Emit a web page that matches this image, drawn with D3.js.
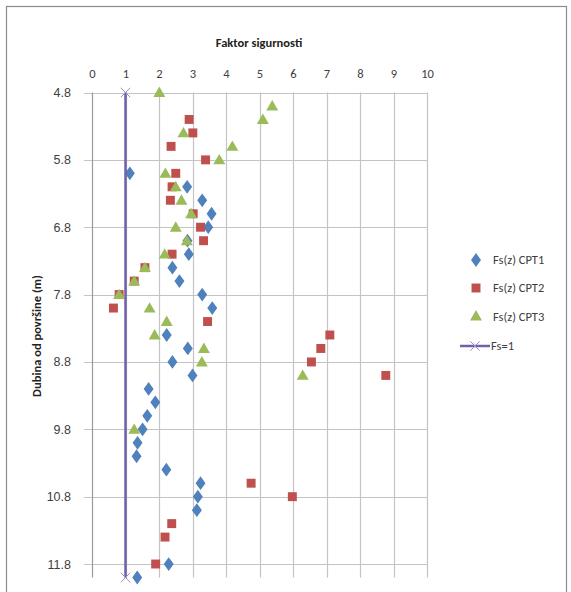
<!DOCTYPE html>
<html><head><meta charset="utf-8">
<script src="https://cdn.jsdelivr.net/npm/d3@7"></script>
<style>body{margin:0;background:#fff}svg{display:block;font-family:Carlito,Lato,"Liberation Sans",sans-serif}</style>
</head><body><svg id="c" width="571" height="592"></svg>
<script>
const xTicks = [0,1,2,3,4,5,6,7,8,9,10];
const yTicks = [4.8,5.8,6.8,7.8,8.8,9.8,10.8,11.8];

const cpt1Depth = [6.0,6.2,6.4,6.6,6.8,7.0,7.2,7.4,7.6,7.8,8.0,8.4,8.6,8.8,9.0,9.2,9.4,9.6,9.8,10.0,10.2,10.4,10.6,10.8,11.0,11.8,12.0];
const cpt1Fs    = [1.13,2.84,3.29,3.57,3.47,2.85,2.89,2.40,2.61,3.29,3.59,2.23,2.86,2.40,3.00,1.69,1.89,1.65,1.51,1.36,1.33,2.22,3.24,3.16,3.13,2.29,1.35];

const cpt2Depth = [5.2,5.4,5.6,5.8,6.0,6.2,6.4,6.6,6.8,7.0,7.2,7.4,7.6,7.8,8.0,8.2,8.4,8.6,8.8,9.0,10.6,10.8,11.2,11.4,11.8];
const cpt2Fs    = [2.90,3.01,2.36,3.39,2.50,2.39,2.34,3.02,3.24,3.33,2.39,1.58,1.26,0.81,0.64,3.45,7.10,6.83,6.55,8.77,4.75,5.98,2.38,2.18,1.90];

const cpt3Depth = [4.8,5.0,5.2,5.4,5.6,5.8,6.0,6.2,6.4,6.6,6.8,7.0,7.2,7.4,7.6,7.8,8.0,8.2,8.4,8.6,8.8,9.0,9.8];
const cpt3Fs    = [2.01,5.38,5.10,2.73,4.19,3.80,2.19,2.50,2.67,2.96,2.50,2.83,2.17,1.58,1.26,0.81,1.72,2.23,1.87,3.34,3.28,6.29,1.26];

const fsDepth = [4.8,12.0];
const fsVal   = [1,1];

const seriesNames = ["Fs(z) CPT1","Fs(z) CPT2","Fs(z) CPT3","Fs=1"];
const colors = ["#4F81BD","#C0504D","#9BBB59","#7260A8"];

const svg = d3.select("#c");
// outer chart border
svg.append("rect").attr("x",6.5).attr("y",6.5).attr("width",560).attr("height",620)
  .attr("fill","#fff").attr("stroke","#8c8c8c").attr("stroke-width",1.2);

const x = d3.scaleLinear().domain([0,10]).range([92,427]);
const y = d3.scaleLinear().domain([4.8,12.0]).range([92.5,577.5]);

const g = svg.append("g");
// grid
g.selectAll(".hg").data(yTicks).join("line")
  .attr("x1",84).attr("x2",x(10)).attr("y1",d=>Math.round(y(d))+0.5).attr("y2",d=>Math.round(y(d))+0.5)
  .attr("stroke","#c4c4c4").attr("stroke-width",1.2);
g.selectAll(".vg").data(xTicks).join("line")
  .attr("x1",d=>Math.round(x(d))+0.5).attr("x2",d=>Math.round(x(d))+0.5).attr("y1",y(4.8)).attr("y2",y(12.0))
  .attr("stroke",d=>d===0?"#9a9a9a":"#c4c4c4").attr("stroke-width",1.2);

// top axis labels
const xAxis = d3.axisTop(x).tickValues(xTicks).tickSize(0).tickPadding(0).tickFormat(d3.format("d"));
const xa = svg.append("g").attr("transform","translate(0,78)").call(xAxis);
xa.select(".domain").remove();
xa.selectAll("text").attr("font-size",12.5).attr("fill","#404040").attr("font-family","Carlito,Lato,sans-serif");

const yAxis = d3.axisLeft(y).tickValues(yTicks).tickSize(0).tickPadding(0).tickFormat(d3.format(".1f"));
const ya = svg.append("g").attr("transform","translate(71,0)").call(yAxis);
ya.select(".domain").remove();
ya.selectAll("text").attr("font-size",12.5).attr("fill","#404040");

// titles
svg.append("text").attr("x",259).attr("y",47).attr("text-anchor","middle")
  .attr("font-size",12.5).attr("font-weight","bold").attr("fill","#222").text("Faktor sigurnosti");
svg.append("text").attr("transform","translate(41,336) rotate(-90)").attr("text-anchor","middle")
  .attr("font-size",12.5).attr("font-weight","bold").attr("fill","#222").text("Dubina od površine (m)");

// marker shapes
const diamond = d3.symbol().type(d3.symbolDiamond).size(55);
const square = d3.symbol().type(d3.symbolSquare).size(80);
const triangle = d3.symbol().type(d3.symbolTriangle).size(62);
const cross = d3.symbol().type(d3.symbolX).size(60);

const plot = svg.append("g");
plot.selectAll(".s1").data(d3.zip(cpt1Fs,cpt1Depth)).join("path")
  .attr("transform",d=>`translate(${x(d[0])},${y(d[1])}) scale(1.25,1)`).attr("d",diamond).attr("fill",colors[0]);
plot.selectAll(".s2").data(d3.zip(cpt2Fs,cpt2Depth)).join("path")
  .attr("transform",d=>`translate(${x(d[0])},${y(d[1])})`).attr("d",square).attr("fill",colors[1]);
plot.selectAll(".s3").data(d3.zip(cpt3Fs,cpt3Depth)).join("path")
  .attr("transform",d=>`translate(${x(d[0])},${y(d[1])+1})`).attr("d",triangle).attr("fill",colors[2]);

const line = d3.line().x(d=>x(d[0])).y(d=>y(d[1]));
plot.append("path").datum(d3.zip(fsVal,fsDepth)).attr("d",line).attr("stroke",colors[3]).attr("stroke-width",2.5).attr("fill","none");
plot.selectAll(".s4").data(d3.zip(fsVal,fsDepth)).join("path")
  .attr("transform",d=>`translate(${x(d[0])},${y(d[1])})`).attr("d",cross).attr("stroke","#9d8fd0").attr("stroke-width",1).attr("fill","none");

// legend
const legY = [260,288,317,346];
const lg = svg.append("g");
const shapes = [diamond,square,triangle];
shapes.forEach((s,i)=>{
  lg.append("path").attr("transform",`translate(476,${legY[i]})${i===0?" scale(1.25,1)":""}`).attr("d",s).attr("fill",colors[i]);
});
lg.append("line").attr("x1",460).attr("x2",490).attr("y1",legY[3]).attr("y2",legY[3]).attr("stroke",colors[3]).attr("stroke-width",2.5);
lg.append("path").attr("transform",`translate(475,${legY[3]})`).attr("d",cross).attr("stroke","#9d8fd0").attr("fill","none");
seriesNames.forEach((n,i)=>{
  lg.append("text").attr("x",i===3?491:493).attr("y",legY[i]).attr("dy","0.35em")
    .attr("font-size",12.5).attr("fill","#404040").text(n);
});
</script></body></html>
